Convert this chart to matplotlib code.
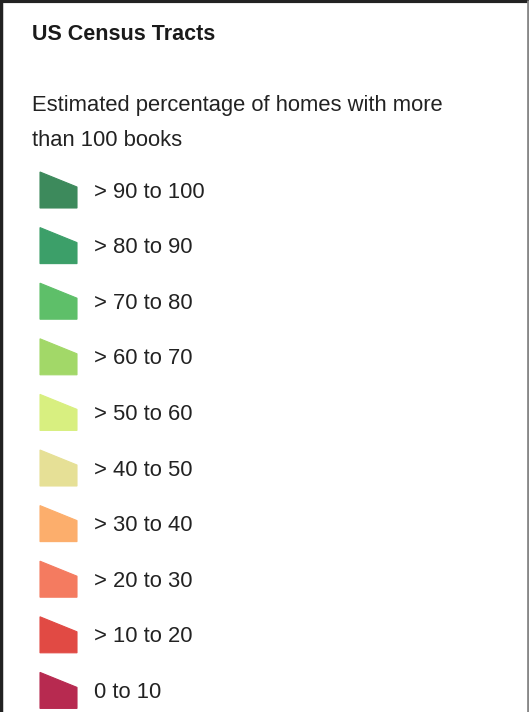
import matplotlib.pyplot as plt
from matplotlib.patches import Polygon

plt.rcParams['font.family'] = ['Liberation Sans', 'DejaVu Sans']

title = "US Census Tracts"
subtitle = ["Estimated percentage of homes with more", "than 100 books"]
labels = ["> 90 to 100", "> 80 to 90", "> 70 to 80", "> 60 to 70", "> 50 to 60",
          "> 40 to 50", "> 30 to 40", "> 20 to 30", "> 10 to 20", "0 to 10"]
colors = ["#3d8a5c", "#3c9f69", "#5ebf69", "#a2d868", "#d8ef80",
          "#e6e096", "#fcae6c", "#f47b60", "#e14a44", "#b72a50"]

fig = plt.figure(figsize=(5.29, 7.12), dpi=100)
ax = fig.add_axes([0, 0, 1, 1])
ax.set_xlim(0, 529)
ax.set_ylim(712, 0)
ax.axis('off')

# frame (no bottom edge, the panel is cut off there)
ax.plot([1, 1], [712, 1], color='#222222', lw=2.5, solid_capstyle='butt')
ax.plot([0, 529], [1, 1], color='#222222', lw=3, solid_capstyle='butt')
ax.plot([527.5, 527.5], [0, 712], color='#888888', lw=2, solid_capstyle='butt')

ax.text(32, 35, title, fontsize=15.5, fontweight='bold', color='#1a1a1a', va='center')
for i, line in enumerate(subtitle):
    ax.text(32, 106 + i * 34, line, fontsize=15.8, color='#222222', va='center')

row0, step = 190, 55.6
for i, (lab, col) in enumerate(zip(labels, colors)):
    yc = row0 + i * step
    top, bot = yc - 18, yc + 18
    pts = [(40, bot), (40, top), (77, top + 15), (77, bot)]
    ax.add_patch(Polygon(pts, closed=True, facecolor=col, edgecolor=col, lw=0.8))
    ax.text(94, yc + 2, lab, fontsize=15.8, color='#222222', va='center')

fig.savefig("out.png", dpi=100)
